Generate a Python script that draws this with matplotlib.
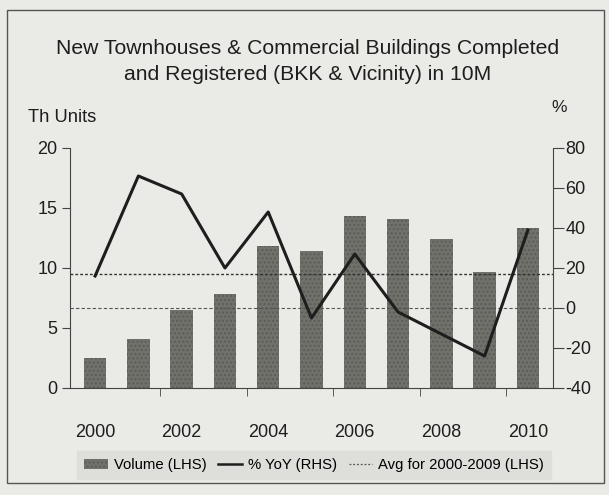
import matplotlib
matplotlib.use("Agg")
import matplotlib.pyplot as plt
from matplotlib.patches import Rectangle, Patch
from matplotlib.lines import Line2D
import numpy as np

plt.rcParams['font.family'] = ['Liberation Sans', 'DejaVu Sans']

years = [2000, 2001, 2002, 2003, 2004, 2005, 2006, 2007, 2008, 2009, 2010]
volume = [2.5, 4.1, 6.5, 7.8, 11.8, 11.4, 14.3, 14.1, 12.4, 9.7, 13.3]
yoy = [16, 66, 57, 20, 48, -5, 27, -2, -13, -24, 39]
avg_years = (2000, 2009)
avg_value = float(np.mean([v for y, v in zip(years, volume) if avg_years[0] <= y <= avg_years[1]]))

left_ticks = [0, 5, 10, 15, 20]
right_ticks = [-40, -20, 0, 20, 40, 60, 80]
x_labels = [2000, 2002, 2004, 2006, 2008, 2010]

paper = '#eaeae6'
bar_color = '#6f716a'
ink = '#1e1e1e'

fig = plt.figure(figsize=(6.09, 4.95), dpi=100, facecolor=paper)

# outer frame
fig.patches.append(Rectangle((7 / 609, 12 / 495), 597 / 609, 473 / 495,
                             transform=fig.transFigure, fill=False,
                             edgecolor='#555555', linewidth=1.0))

ax = fig.add_axes([70 / 609, 1 - 388 / 495, (553 - 70) / 609, (388 - 148) / 495])
ax.set_facecolor(paper)
ax.bar(years, volume, width=0.52, color=bar_color, hatch='....',
       edgecolor='#5a5c55', linewidth=0, zorder=2)
ax.axhline(avg_value, color='#333333', linestyle=(0, (2, 1.5)), linewidth=1.0, zorder=3)

ax.set_xlim(1999.42, 2010.58)
ax.set_ylim(0, 20)
ax.set_yticks(left_ticks)
ax.set_yticklabels([str(t) for t in left_ticks], fontsize=13, color=ink)
ax.set_xticks(x_labels)
ax.set_xticklabels([str(x) for x in x_labels], fontsize=13, color=ink)
ax.tick_params(axis='x', length=0, pad=26)
ax.set_xticks([y + 0.5 for y in range(2001, 2010, 2)], minor=True)
ax.tick_params(axis='x', which='minor', length=6, direction='out', color='#444444')
ax.tick_params(axis='y', length=6, direction='out', color='#444444', pad=3)
for side in ['top', 'right']:
    ax.spines[side].set_visible(False)
ax.spines['left'].set_color('#444444')
ax.spines['bottom'].set_color('#444444')

ax2 = ax.twinx()
ax2.set_ylim(-40, 80)
ax2.axhline(0, color='#555555', linestyle=(0, (3, 2)), linewidth=0.8, zorder=3)
ax2.plot(years, yoy, color=ink, linewidth=2.2, zorder=4)
ax2.set_yticks(right_ticks)
ax2.set_yticklabels([str(t) for t in right_ticks], fontsize=13, color=ink)
ax2.tick_params(axis='y', length=8, direction='out', color='#444444', pad=1)
for side in ['top', 'left', 'bottom']:
    ax2.spines[side].set_visible(False)
ax2.spines['right'].set_color('#444444')

fig.text(308 / 609, 1 - 48 / 495, 'New Townhouses & Commercial Buildings Completed',
         ha='center', va='center', fontsize=15.2, color=ink)
fig.text(308 / 609, 1 - 74 / 495, 'and Registered (BKK & Vicinity) in 10M',
         ha='center', va='center', fontsize=15.2, color=ink)
fig.text(28 / 609, 1 - 118 / 495, 'Th Units', ha='left', va='center',
         fontsize=13.2, color=ink)
fig.text(559 / 609, 1 - 108 / 495, '%', ha='center', va='center',
         fontsize=12.5, color=ink)

handles = [
    Patch(facecolor=bar_color, hatch='....', edgecolor='#5a5c55', linewidth=0),
    Line2D([], [], color=ink, linewidth=1.8),
    Line2D([], [], color='#555555', linestyle=(0, (1.5, 1.5)), linewidth=0.9),
]
labels = ['Volume (LHS)', '% YoY (RHS)', 'Avg for 2000-2009 (LHS)']
leg = fig.legend(handles, labels, loc='center', bbox_to_anchor=(314 / 609, 1 - 465 / 495),
                 ncol=3, frameon=True, fontsize=10.7, handlelength=1.6,
                 handletextpad=0.4, columnspacing=0.8, borderpad=0.45,
                 fancybox=False)
leg.get_frame().set_facecolor('#dcdcd8')
leg.get_frame().set_edgecolor('#dcdcd8')

fig.savefig('out.png', dpi=100, facecolor=paper)
